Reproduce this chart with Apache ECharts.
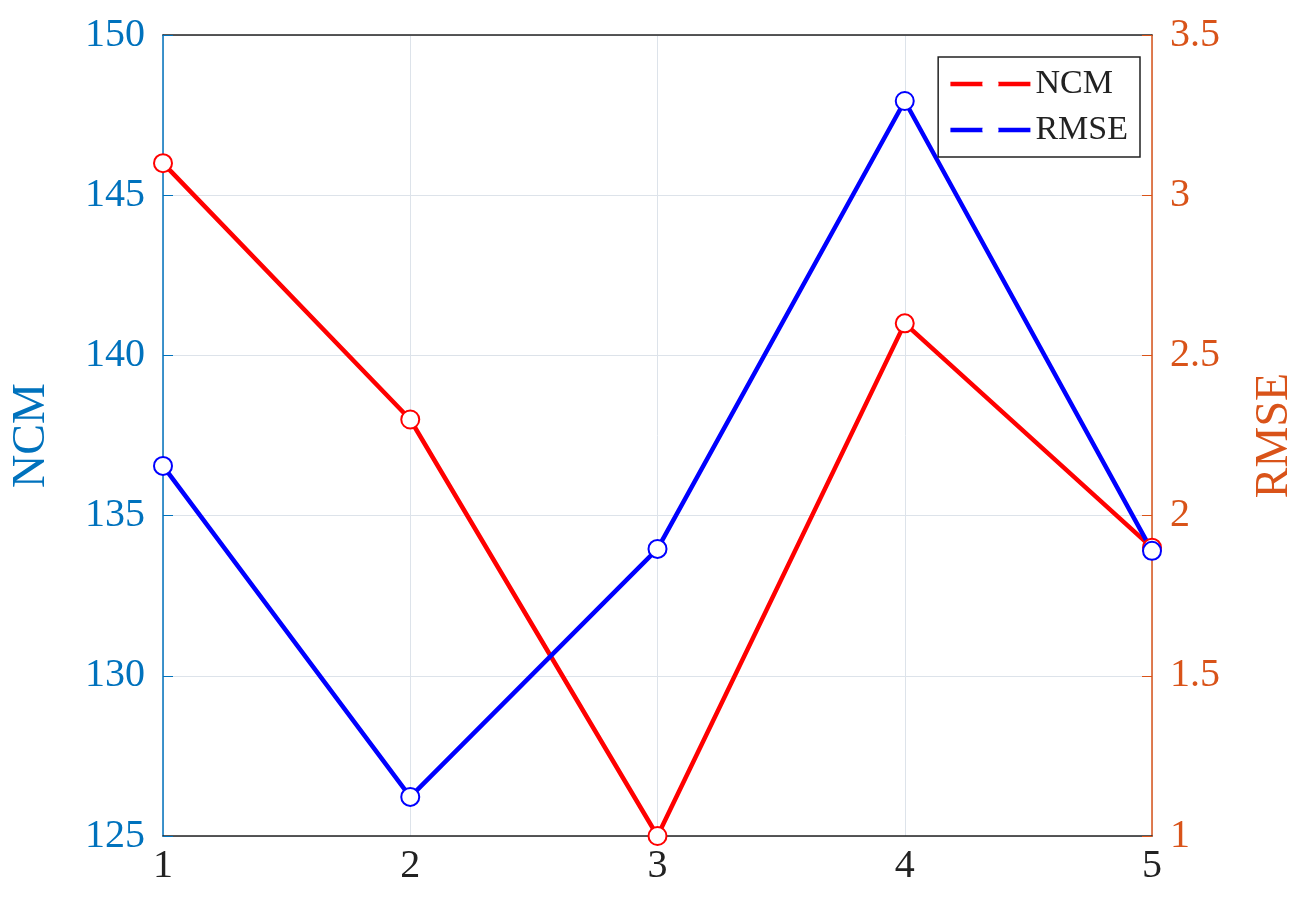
<!DOCTYPE html>
<html><head><meta charset="utf-8">
<script src="https://cdn.jsdelivr.net/npm/echarts@6/dist/echarts.min.js"></script>
<style>html,body{margin:0;background:#fff}#c{width:1306px;height:920px}</style>
</head><body><div id="c"></div>
<script>
const xs = [1, 2, 3, 4, 5];
const ncm = [146.0, 138.0, 125.0, 141.0, 134.0];
const rmse = [2.155, 1.122, 1.896, 3.294, 1.89];
const leftTicks = [125, 130, 135, 140, 145, 150];
const rightTicks = [1, 1.5, 2, 2.5, 3, 3.5];
const font = 'Liberation Serif';
const chart = echarts.init(document.getElementById('c'));
const pair = (v) => xs.map((x, i) => [x, v[i]]);
chart.setOption({
  animation: false,
  textStyle: { fontFamily: font },
  grid: { left: 163, right: 144, top: 35, bottom: 84 },
  legend: {
    right: 166, top: 57, orient: 'vertical', itemWidth: 80, itemHeight: 18, itemGap: 12,
    backgroundColor: '#fff', borderColor: '#222', borderWidth: 1.5, padding: [10, 12, 10, 10],
    textStyle: { fontFamily: font, fontSize: 34, color: '#222' },
    itemStyle: { borderWidth: 4, color: '#fff' },
    lineStyle: { width: 4.5 },
    data: ['NCM', 'RMSE']
  },
  xAxis: [{
    type: 'value', min: 1, max: 5, interval: 1,
    axisLine: { lineStyle: { color: '#222', width: 1.5 } },
    axisTick: { show: false },
    axisLabel: { fontSize: 40, color: '#222', margin: 10, fontFamily: font },
    splitLine: { lineStyle: { color: '#dde3ea' } }
  }, {
    type: 'value', min: 1, max: 5, position: 'top',
    axisLine: { lineStyle: { color: '#222', width: 1.5 } },
    axisTick: { show: false }, axisLabel: { show: false }, splitLine: { show: false }
  }],
  yAxis: [{
    type: 'value', min: 125, max: 150, interval: 5, name: 'NCM',
    nameLocation: 'middle', nameGap: 108,
    nameTextStyle: { fontSize: 46, color: '#0072BD', fontFamily: font },
    axisLine: { show: true, lineStyle: { color: '#0072BD', width: 1.5 } },
    axisTick: { show: true, inside: true, length: 10, lineStyle: { color: '#0072BD' } },
    axisLabel: { fontSize: 40, color: '#0072BD', margin: 18, fontFamily: font },
    splitLine: { lineStyle: { color: '#dde3ea' } }
  }, {
    type: 'value', min: 1, max: 3.5, interval: 0.5, name: 'RMSE',
    nameLocation: 'middle', nameGap: 100, nameRotate: 90,
    nameTextStyle: { fontSize: 46, color: '#D95319', fontFamily: font },
    axisLine: { show: true, lineStyle: { color: '#D95319', width: 1.5 } },
    axisTick: { show: true, inside: true, length: 10, lineStyle: { color: '#D95319' } },
    axisLabel: { fontSize: 40, color: '#D95319', margin: 18, fontFamily: font },
    splitLine: { show: false }
  }],
  series: [{
    name: 'NCM', type: 'line', yAxisIndex: 0, data: pair(ncm),
    color: '#ff0000', lineStyle: { width: 4.5 }, symbol: 'emptyCircle', symbolSize: 18,
    itemStyle: { borderWidth: 4.5 }
  }, {
    name: 'RMSE', type: 'line', yAxisIndex: 1, data: pair(rmse),
    color: '#0000ff', lineStyle: { width: 4.5 }, symbol: 'emptyCircle', symbolSize: 18,
    itemStyle: { borderWidth: 4.5 }
  }]
});
</script></body></html>
